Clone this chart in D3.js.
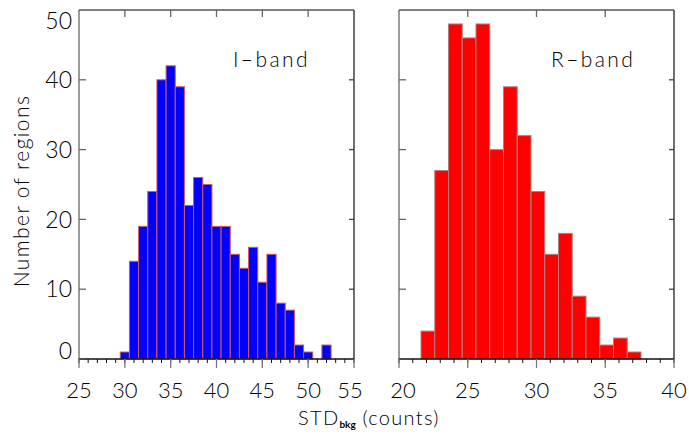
<!DOCTYPE html>
<html>
<head>
<meta charset="utf-8">
<script src="https://cdn.jsdelivr.net/npm/d3@7/dist/d3.min.js"></script>
<style>
  html, body { margin: 0; padding: 0; background: #fff; }
  svg text { font-family: Lato, "DejaVu Sans", sans-serif; font-weight: 300; fill: #000; }
</style>
</head>
<body>
<svg id="chart" width="689" height="434"></svg>
<script>
// ---------------- data ----------------
const iBinLeft = [29.5, 30.5, 31.5, 32.5, 33.5, 34.5, 35.5, 36.5, 37.5, 38.5, 39.5, 40.5,
                  41.5, 42.5, 43.5, 44.5, 45.5, 46.5, 47.5, 48.5, 49.5, 50.5, 51.5];
const iCounts  = [1, 14, 19, 24, 40, 42, 39, 22, 26, 25, 19, 19,
                  15, 13, 16, 11, 15, 8, 7, 2, 1, 0, 2];
const rBinLeft = [21.6, 22.6, 23.6, 24.6, 25.6, 26.6, 27.6, 28.6,
                  29.6, 30.6, 31.6, 32.6, 33.6, 34.6, 35.6, 36.6];
const rCounts  = [4, 27, 48, 46, 48, 30, 39, 32, 24, 15, 18, 9, 6, 2, 3, 1];
const binWidth = 1;
const iXTicks = [25, 30, 35, 40, 45, 50, 55];
const rXTicks = [20, 25, 30, 35, 40];
const yTicks  = [0, 10, 20, 30, 40, 50];
const panelLabels = ["I\u2013band", "R\u2013band"];
const yTitle = "Number of regions";

// ---------------- layout ----------------
const svg = d3.select("#chart");
const plotTop = 10, plotBottom = 359;
const y = d3.scaleLinear().domain([0, 50]).range([plotBottom, plotTop]);

const panels = [
  { x: d3.scaleLinear().domain([25, 55]).range([79, 354]), bins: iBinLeft, counts: iCounts,
    ticks: iXTicks, fill: "#0000ff", stroke: "#d05a5a", label: panelLabels[0], labelX: 233, yLabels: true },
  { x: d3.scaleLinear().domain([20, 40]).range([399, 674]), bins: rBinLeft, counts: rCounts,
    ticks: rXTicks, fill: "#ff0000", stroke: "#b08080", label: panelLabels[1], labelX: 551, yLabels: false }
];

panels.forEach((p, pi) => {
  const g = svg.append("g");
  const [x0, x1] = p.x.range();
  const [d0, d1] = p.x.domain();

  // bars
  g.selectAll("rect.bar").data(p.bins.map((b, i) => ({ b, c: p.counts[i] })).filter(d => d.c > 0))
    .enter().append("rect")
    .attr("x", d => p.x(d.b))
    .attr("y", d => y(d.c))
    .attr("width", d => p.x(d.b + binWidth) - p.x(d.b))
    .attr("height", d => y(0) - y(d.c))
    .attr("fill", p.fill)
    .attr("stroke", p.stroke)
    .attr("stroke-width", 1);

  // frame
  g.append("line").attr("x1", x0).attr("x2", x0).attr("y1", plotTop).attr("y2", plotBottom).attr("stroke", "#666").attr("stroke-width", 1.3);
  g.append("line").attr("x1", x1).attr("x2", x1).attr("y1", plotTop).attr("y2", plotBottom).attr("stroke", "#222").attr("stroke-width", 1.3);
  g.append("line").attr("x1", x0).attr("x2", x1).attr("y1", plotTop).attr("y2", plotTop).attr("stroke", "#555").attr("stroke-width", 1.3);
  g.append("line").attr("x1", x0).attr("x2", x1).attr("y1", plotBottom).attr("y2", plotBottom).attr("stroke", "#111").attr("stroke-width", 1.3);

  // bottom minor ticks (outside)
  const minor = d3.range(d0, d1 + 0.001, 1);
  g.selectAll("line.minor").data(minor).enter().append("line")
    .attr("x1", d => p.x(d)).attr("x2", d => p.x(d))
    .attr("y1", plotBottom).attr("y2", plotBottom + 4)
    .attr("stroke", "#111").attr("stroke-width", 1);
  // bottom major ticks
  g.selectAll("line.major").data(p.ticks).enter().append("line")
    .attr("x1", d => p.x(d)).attr("x2", d => p.x(d))
    .attr("y1", plotBottom).attr("y2", plotBottom + 9)
    .attr("stroke", "#777").attr("stroke-width", 1.3);
  // top major ticks (inside)
  g.selectAll("line.topt").data(p.ticks.slice(1, -1)).enter().append("line")
    .attr("x1", d => p.x(d)).attr("x2", d => p.x(d))
    .attr("y1", plotTop).attr("y2", plotTop + 7)
    .attr("stroke", "#666").attr("stroke-width", 1.3);
  // y ticks
  const inner = yTicks.slice(1, -1);
  g.selectAll("line.yl").data(inner).enter().append("line")
    .attr("x1", x0).attr("x2", x0 + 7).attr("y1", d => y(d)).attr("y2", d => y(d))
    .attr("stroke", "#666").attr("stroke-width", 1.3);
  g.selectAll("line.yr").data(inner).enter().append("line")
    .attr("x1", x1 - 5).attr("x2", x1).attr("y1", d => y(d)).attr("y2", d => y(d))
    .attr("stroke", "#444").attr("stroke-width", 1.3);

  // x tick labels (end labels nudged apart where the panels meet)
  const nT = p.ticks.length;
  g.selectAll("text.xt").data(p.ticks).enter().append("text")
    .attr("x", (d, i) => p.x(d) + (pi === 0 && i === nT - 1 ? -4 : 0) + (pi === 1 && i === 0 ? 4 : 0))
    .attr("y", 398)
    .attr("text-anchor", "middle").attr("font-size", 22)
    .text(d => d);

  // y tick labels
  if (p.yLabels) {
    g.selectAll("text.yt").data(yTicks).enter().append("text")
      .attr("x", 72).attr("y", d => Math.max(21, Math.min(351, y(d))))
      .attr("dy", "0.36em")
      .attr("text-anchor", "end").attr("font-size", 23)
      .text(d => d);
  }

  // panel label
  g.append("text").attr("x", p.labelX).attr("y", 67)
    .attr("font-size", 21).attr("letter-spacing", 2.4).text(p.label);
});

// y title
svg.append("text")
  .attr("transform", "translate(29,191) rotate(-90)")
  .attr("text-anchor", "middle").attr("font-size", 21)
  .attr("letter-spacing", 1.4)
  .text(yTitle);

// x title
const xt = svg.append("text").attr("x", 298).attr("y", 425).attr("font-size", 20).attr("letter-spacing", 1.3);
xt.append("tspan").text("STD");
xt.append("tspan").attr("font-size", 10).attr("font-weight", 700).attr("letter-spacing", 0).attr("dy", 3).text("bkg");
xt.append("tspan").attr("dy", -3).text(" (counts)");
</script>
</body>
</html>
